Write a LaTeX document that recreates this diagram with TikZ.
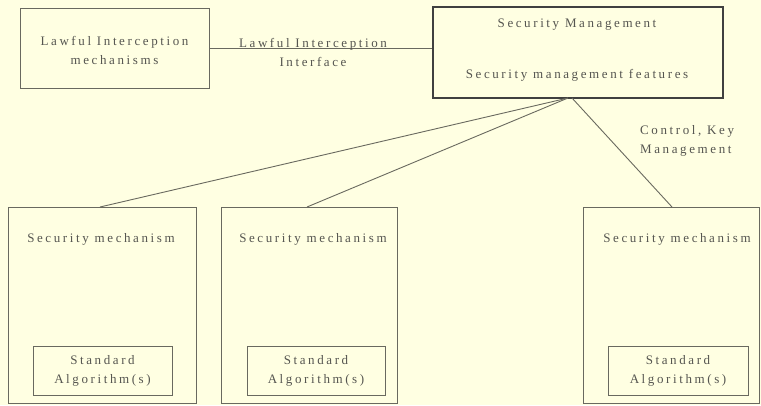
\documentclass[tikz,border=0pt]{standalone}
\usepackage{fontspec}
\setmainfont{Liberation Serif}[LetterSpace=20]
\definecolor{bg}{RGB}{255,255,226}
\definecolor{ink}{RGB}{85,85,80}
\definecolor{linec}{RGB}{105,105,95}
\begin{document}
\begin{tikzpicture}[x=1pt,y=-1pt,
  every node/.style={font=\fontsize{13}{19}\selectfont, text=ink, align=center, inner sep=0pt},
  box/.style={draw=linec, line width=0.8pt, rectangle},
  thickbox/.style={draw=black!75, line width=2pt, rectangle},
  conn/.style={draw=linec, line width=0.9pt},
  lbl/.style={}]
\fill[bg] (0,0) rectangle (761,405);
\useasboundingbox (0,0) rectangle (761,405);

% top boxes
\node[box, minimum width=189pt, minimum height=80pt] (li) at (114.5,48) {};
\node (litext) at (114.5,50) {Lawful Interception\\mechanisms};

\node[thickbox, minimum width=290pt, minimum height=91pt] (sm) at (578,52.5) {};
\node (smt1) at (577,25) {Security Management};
\node (smt2) at (577,75) {Security management features};

% interface line and label
\draw[conn] (li.east) -- (li.east -| sm.west);
\node (ifl) at (313,52) {Lawful Interception\\Interface};

% bottom boxes
\node[box, minimum width=188pt, minimum height=196pt] (b1) at (102,305) {};
\node[box, minimum width=176pt, minimum height=196pt] (b2) at (309,305) {};
\node[box, minimum width=176pt, minimum height=196pt] (b3) at (671,305) {};

\node (b1t) at (101,239) {Security mechanism};
\node (b2t) at (313,239) {Security mechanism};
\node (b3t) at (677,239) {Security mechanism};

\node[box, minimum width=139pt, minimum height=49pt] (i1) at (102.5,370.5) {};
\node[box, minimum width=138pt, minimum height=49pt] (i2) at (316,370.5) {};
\node[box, minimum width=140pt, minimum height=49pt] (i3) at (678,370.5) {};
\node (i1t) at (102.5,371) {Standard\\Algorithm(s)};
\node (i2t) at (316,371) {Standard\\Algorithm(s)};
\node (i3t) at (678,371) {Standard\\Algorithm(s)};

% connectors
\coordinate (s1) at (568,98);
\coordinate (s2) at (572,98);
\coordinate (t1) at (100,207);
\coordinate (t2) at (307,207);
\coordinate (t3) at (672,207);
\draw[conn] (s1) -- (t1);
\draw[conn] (s1) -- (t2);
\draw[conn] (s2) -- (t3);

\node[align=left, anchor=west] (ckm) at (640,141) {Control, Key\\Management};
\end{tikzpicture}
\end{document}
